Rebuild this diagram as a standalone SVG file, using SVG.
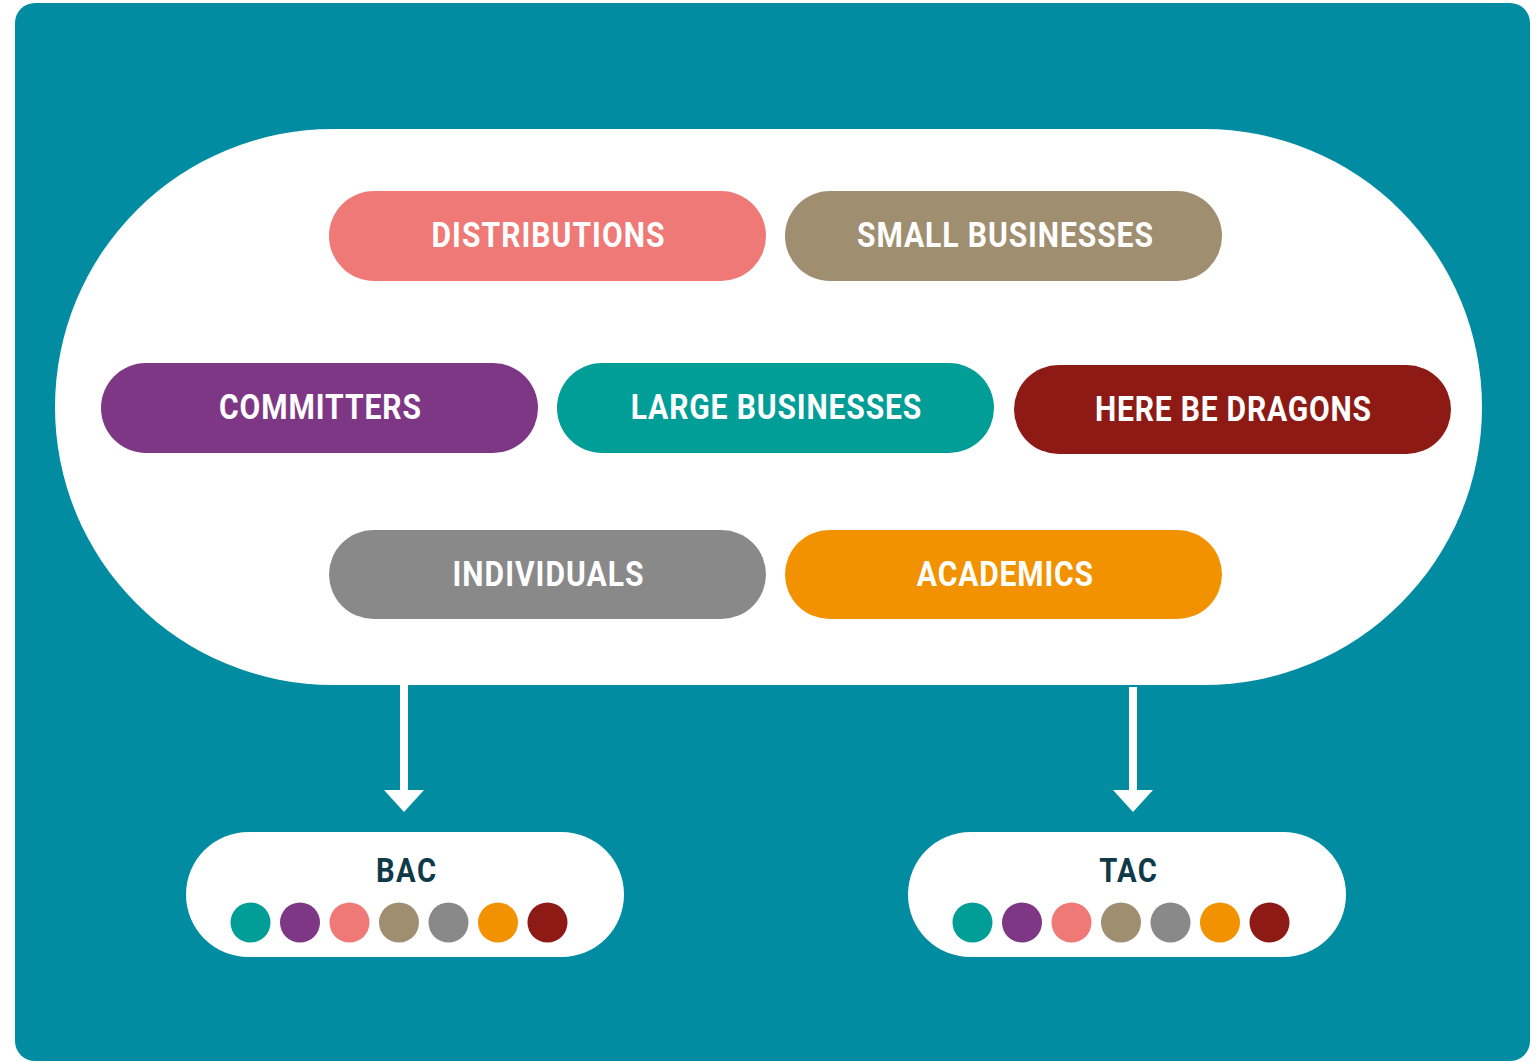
<svg xmlns="http://www.w3.org/2000/svg" width="1538" height="1062" viewBox="0 0 1538 1062">
<style>
.pill-t{font-family:Roboto,"Liberation Sans",sans-serif;font-weight:700;font-size:35px;fill:#ffffff;text-anchor:middle}
.box-t{font-family:Roboto,"Liberation Sans",sans-serif;font-weight:700;font-size:34px;fill:#0f3a48;text-anchor:middle}
</style>
<defs>
<marker id="ah" viewBox="0 0 22 40" refX="0" refY="20" markerWidth="22" markerHeight="40" markerUnits="userSpaceOnUse" orient="auto">
<path d="M0,0 L22,20 L0,40 Z" fill="#ffffff"/>
</marker>
</defs>
<rect x="15" y="3" width="1515" height="1058" rx="20" fill="#018ca2"/>
<rect id="pool" x="55" y="129" width="1427" height="556" rx="278" fill="#ffffff"/>
<g id="distributions"><rect x="329" y="191" width="437" height="90" rx="45" fill="#ee7976"/><text class="pill-t" transform="translate(548 247) scale(0.86 1)" x="0" y="0" textLength="271" lengthAdjust="spacing">DISTRIBUTIONS</text></g>
<g id="small-businesses"><rect x="785" y="191" width="437" height="90" rx="45" fill="#a08e70"/><text class="pill-t" transform="translate(1005 247) scale(0.86 1)" x="0" y="0" textLength="344" lengthAdjust="spacing">SMALL BUSINESSES</text></g>
<g id="committers"><rect x="101" y="363" width="437" height="90" rx="45" fill="#7e3785"/><text class="pill-t" transform="translate(320 419) scale(0.86 1)" x="0" y="0" textLength="235" lengthAdjust="spacing">COMMITTERS</text></g>
<g id="large-businesses"><rect x="557" y="363" width="437" height="90" rx="45" fill="#019e98"/><text class="pill-t" transform="translate(776 419) scale(0.86 1)" x="0" y="0" textLength="338" lengthAdjust="spacing">LARGE BUSINESSES</text></g>
<g id="here-be-dragons"><rect x="1014" y="365" width="437" height="89" rx="44.5" fill="#8e1a16"/><text class="pill-t" transform="translate(1233 421) scale(0.86 1)" x="0" y="0" textLength="321" lengthAdjust="spacing">HERE BE DRAGONS</text></g>
<g id="individuals"><rect x="329" y="530" width="437" height="89" rx="44.5" fill="#898989"/><text class="pill-t" transform="translate(548 586) scale(0.86 1)" x="0" y="0" textLength="222" lengthAdjust="spacing">INDIVIDUALS</text></g>
<g id="academics"><rect x="785" y="530" width="437" height="89" rx="44.5" fill="#f29200"/><text class="pill-t" transform="translate(1005 586) scale(0.86 1)" x="0" y="0" textLength="205" lengthAdjust="spacing">ACADEMICS</text></g>
<g id="connectors" stroke="#ffffff" stroke-width="8" fill="none">
<line x1="404" y1="684" x2="404" y2="790" marker-end="url(#ah)"/>
<line x1="1133" y1="687" x2="1133" y2="790" marker-end="url(#ah)"/>
</g>
<g id="bac"><rect x="186" y="832" width="438" height="125" rx="62.5" fill="#ffffff"/><text class="box-t" transform="translate(406 882) scale(0.86 1)" x="0" y="0" textLength="70" lengthAdjust="spacing">BAC</text>
<circle cx="250.5" cy="922.5" r="20" fill="#019e98"/><circle cx="300" cy="922.5" r="20" fill="#7e3785"/><circle cx="349.5" cy="922.5" r="20" fill="#ee7976"/><circle cx="399" cy="922.5" r="20" fill="#a08e70"/><circle cx="448.5" cy="922.5" r="20" fill="#898989"/><circle cx="498" cy="922.5" r="20" fill="#f29200"/><circle cx="547.5" cy="922.5" r="20" fill="#8e1a16"/></g>
<g id="tac"><rect x="908" y="832" width="438" height="125" rx="62.5" fill="#ffffff"/><text class="box-t" transform="translate(1128 882) scale(0.86 1)" x="0" y="0" textLength="67" lengthAdjust="spacing">TAC</text>
<circle cx="972.5" cy="922.5" r="20" fill="#019e98"/><circle cx="1022" cy="922.5" r="20" fill="#7e3785"/><circle cx="1071.5" cy="922.5" r="20" fill="#ee7976"/><circle cx="1121" cy="922.5" r="20" fill="#a08e70"/><circle cx="1170.5" cy="922.5" r="20" fill="#898989"/><circle cx="1220" cy="922.5" r="20" fill="#f29200"/><circle cx="1269.5" cy="922.5" r="20" fill="#8e1a16"/></g>
</svg>
